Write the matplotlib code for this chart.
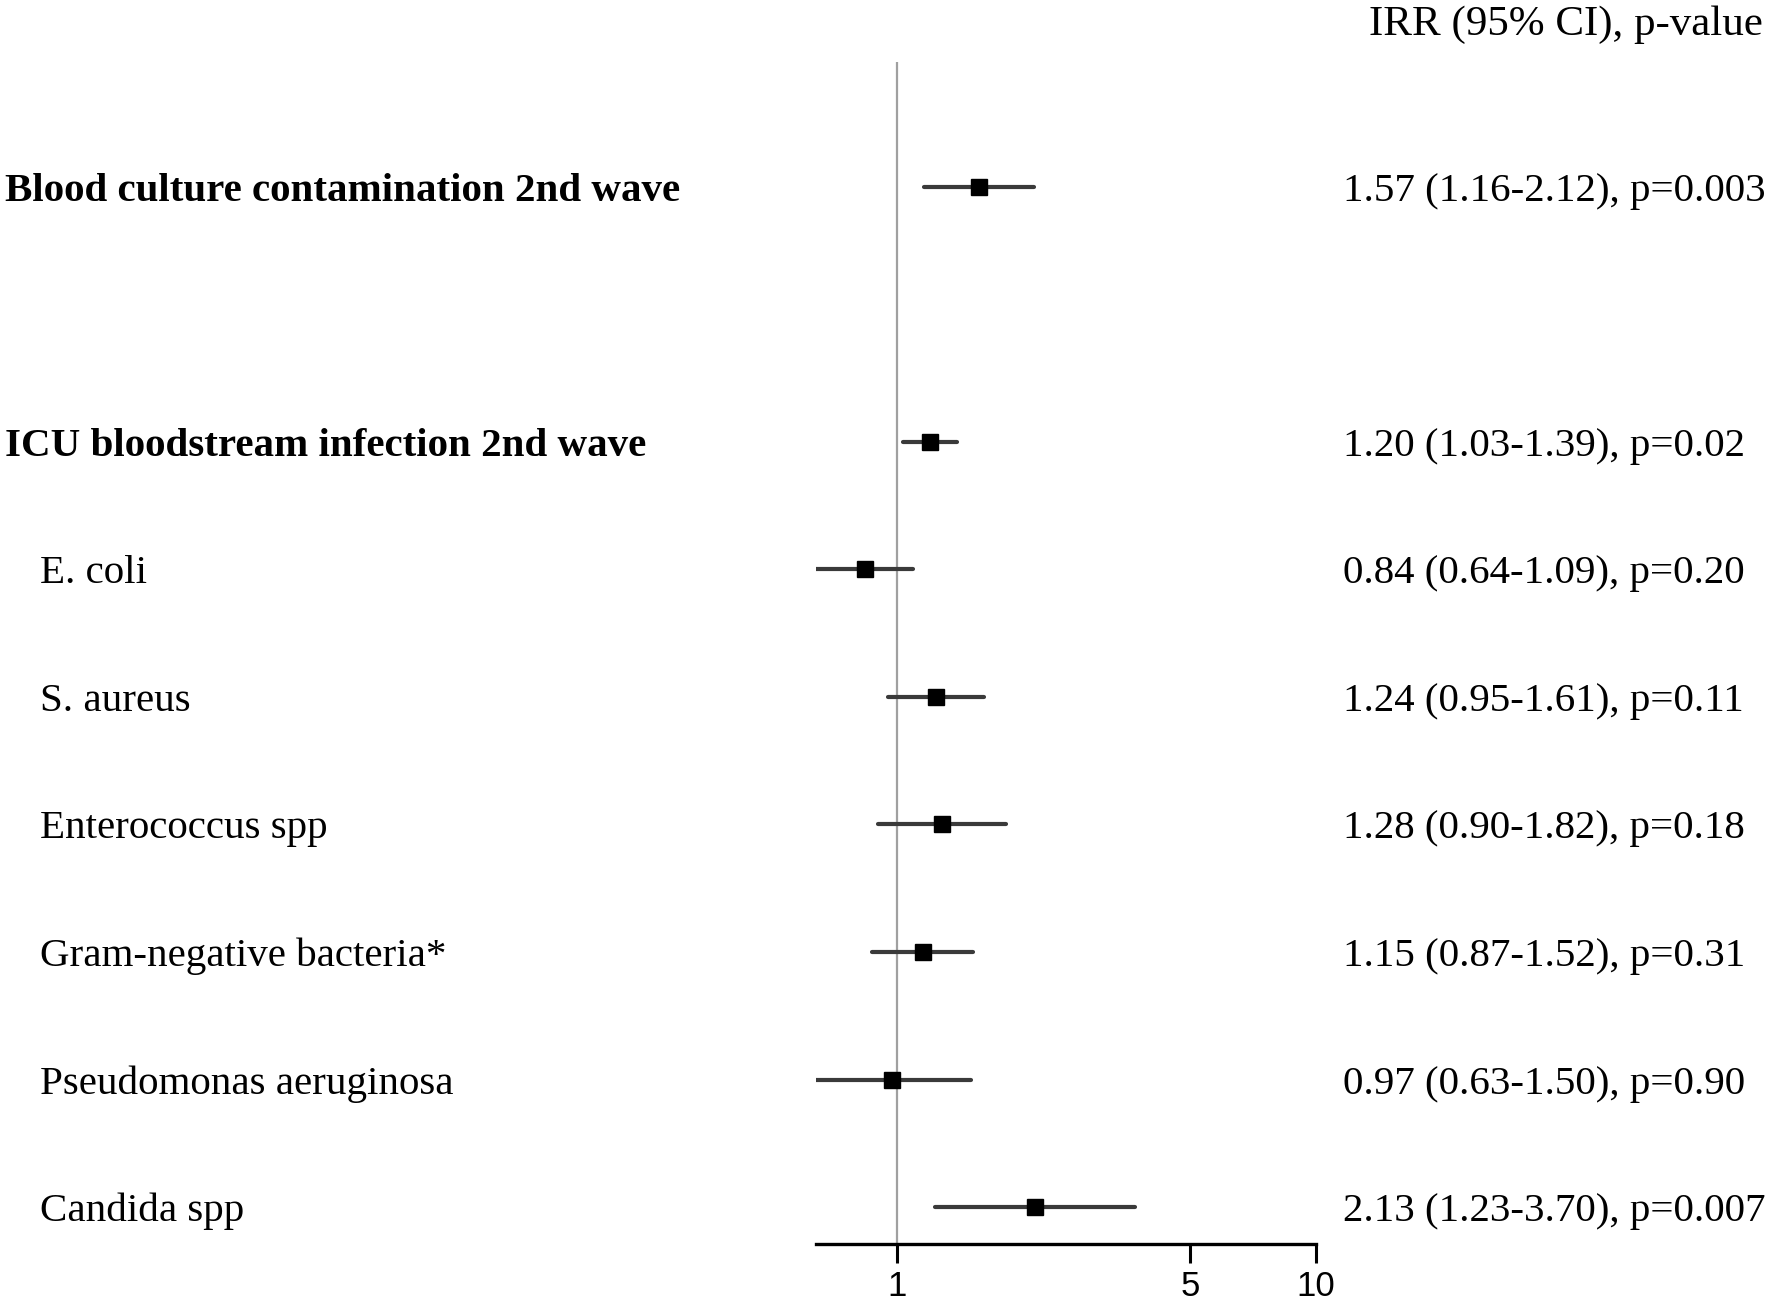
import numpy as np
import matplotlib
matplotlib.use("Agg")
import matplotlib.pyplot as plt
import matplotlib.transforms as mtransforms

# data
labels = ["Blood culture contamination 2nd wave", "ICU bloodstream infection 2nd wave",
          "E. coli", "S. aureus", "Enterococcus spp", "Gram-negative bacteria*",
          "Pseudomonas aeruginosa", "Candida spp"]
bold = [True, True, False, False, False, False, False, False]
rows = [0, 2, 3, 4, 5, 6, 7, 8]
irr = [1.57, 1.20, 0.84, 1.24, 1.28, 1.15, 0.97, 2.13]
lo = [1.16, 1.03, 0.64, 0.95, 0.90, 0.87, 0.63, 1.23]
hi = [2.12, 1.39, 1.09, 1.61, 1.82, 1.52, 1.50, 3.70]
pvals = ["0.003", "0.02", "0.20", "0.11", "0.18", "0.31", "0.90", "0.007"]
xticks = [1, 5, 10]

W, H = 1770, 1306
fig = plt.figure(figsize=(W / 100, H / 100), dpi=100)
ax = fig.add_axes([816 / W, 1 - 1244 / H, (1316 - 816) / W, (1244 - 62) / H])

ax.set_xscale("log")
ax.set_xlim(0.64, 10)
ax.set_ylim(8.29, -0.98)

ax.axvline(1, color="#a0a0a0", lw=1.6, zorder=1)
for r, m, l, h in zip(rows, irr, lo, hi):
    ax.plot([l, h], [r, r], color="#3a3a3a", lw=3, solid_capstyle="round", zorder=2)
    ax.plot(m, r, marker="s", ms=12, color="black", zorder=3)

for s in ["top", "right", "left"]:
    ax.spines[s].set_visible(False)
ax.spines["bottom"].set_linewidth(2.4)
ax.set_yticks([])
ax.set_xticks(xticks)
ax.set_xticklabels([str(t) for t in xticks], fontsize=25, family="Liberation Sans")
ax.xaxis.set_minor_locator(matplotlib.ticker.NullLocator())
ax.tick_params(axis="x", direction="out", length=14, width=2.2, pad=5)

trans = mtransforms.blended_transform_factory(fig.transFigure, ax.transData)
for r, lab, b, m, l, h, p in zip(rows, labels, bold, irr, lo, hi, pvals):
    x0 = 5 / W if b else 40 / W
    ax.text(x0, r, lab, transform=trans, ha="left", va="center_baseline", fontsize=29.5,
            family="Liberation Serif", fontweight="bold" if b else "normal")
    ax.text(1343 / W, r, f"{m:.2f} ({l:.2f}-{h:.2f}), p={p}", transform=trans,
            ha="left", va="center_baseline", fontsize=29.5, family="Liberation Serif")

fig.text(1763 / W, 1 - 20 / H, "IRR (95% CI), p-value", ha="right", va="center_baseline",
         fontsize=31, family="Liberation Serif")

fig.savefig("out.png", dpi=100, facecolor="white")
